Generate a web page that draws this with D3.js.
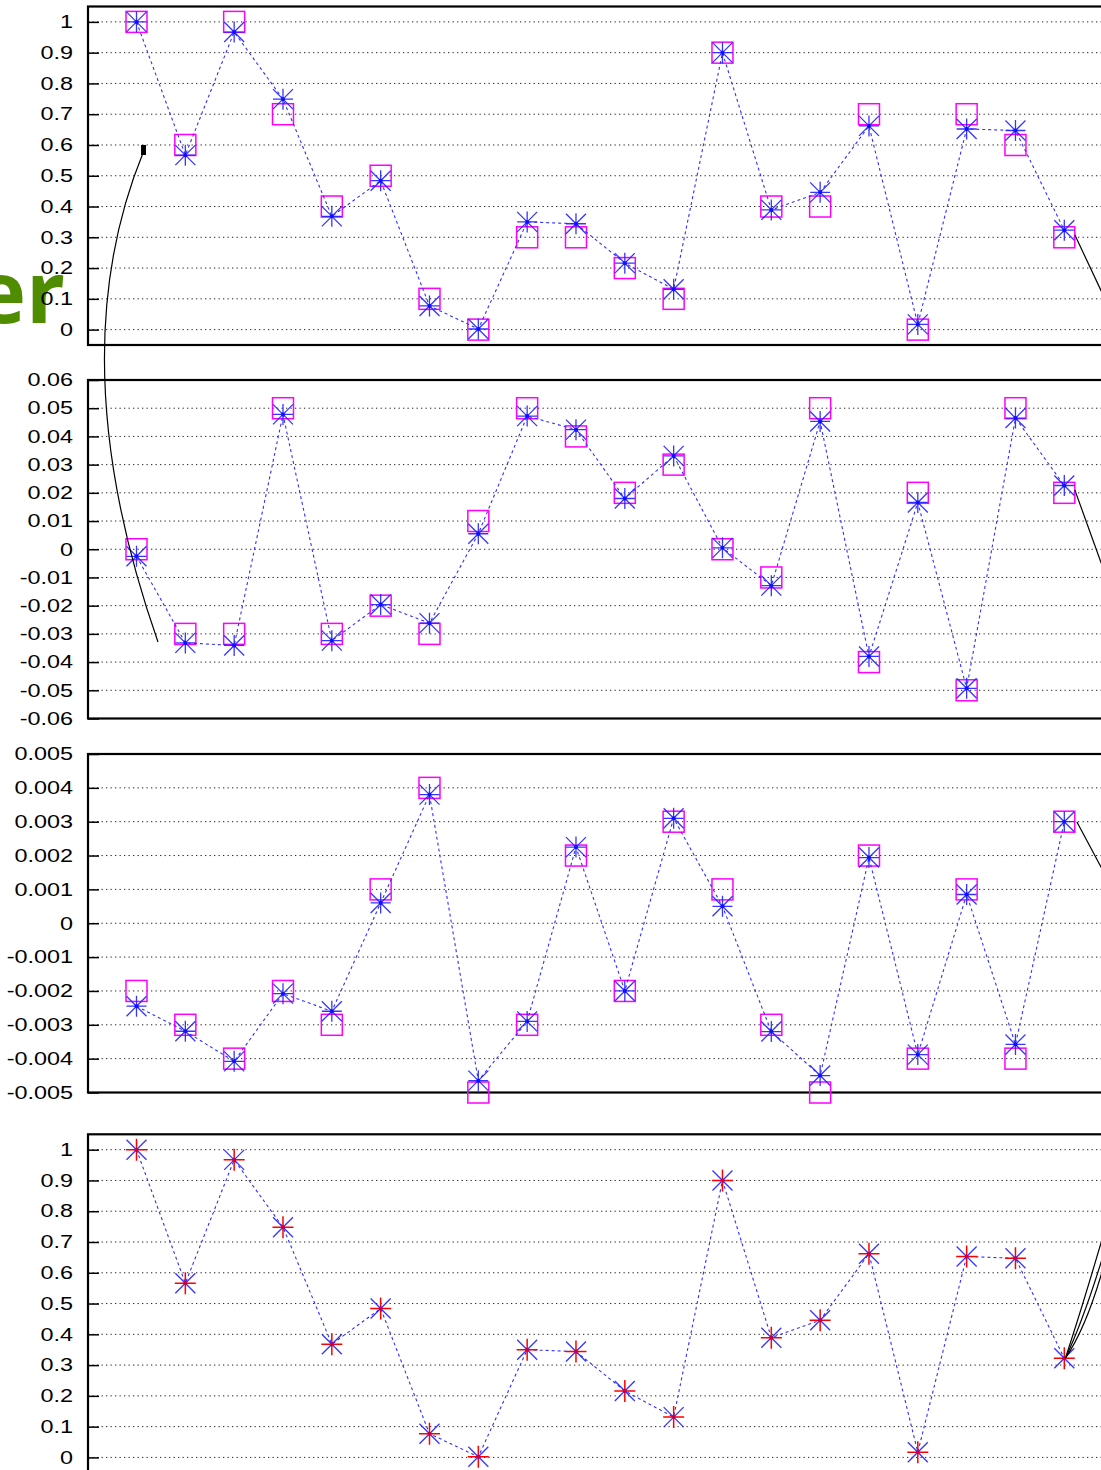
<!DOCTYPE html>
<html>
<head>
<meta charset="utf-8">
<script src="https://cdn.jsdelivr.net/npm/d3@7"></script>
<style>
  body { margin: 0; background: #fff; }
  svg { display: block; }
</style>
</head>
<body>
<svg id="chart"></svg>
<script>
// sample index along x
const samples = [1, 2, 3, 4, 5, 6, 7, 8, 9, 10, 11, 12, 13, 14, 15, 16, 17, 18, 19, 20];

// panel 1 : true values (squares) and estimates (stars)
const truth1 = [1, 0.6, 1, 0.7, 0.4, 0.5, 0.1, 0, 0.3, 0.3, 0.2, 0.1, 0.9, 0.4, 0.4, 0.7, 0, 0.7, 0.6, 0.3];
const est1   = [1.0, 0.567, 0.967, 0.749, 0.368, 0.484, 0.077, 0.002, 0.35, 0.344, 0.216, 0.131, 0.9, 0.389, 0.446, 0.662, 0.017, 0.652, 0.647, 0.323];

// panel 2
const truth2 = [0, -0.03, -0.03, 0.05, -0.03, -0.02, -0.03, 0.01, 0.05, 0.04, 0.02, 0.03, 0, -0.01, 0.05, -0.04, 0.02, -0.05, 0.05, 0.02];
const est2   = [-0.0025, -0.0332, -0.0341, 0.0478, -0.0324, -0.0196, -0.0262, 0.0055, 0.0472, 0.0424, 0.018, 0.0331, 0.0005, -0.0129, 0.0453, -0.038, 0.0166, -0.0493, 0.0465, 0.0226];

// panel 3
const truth3 = [-0.002, -0.003, -0.004, -0.002, -0.003, 0.001, 0.004, -0.005, -0.003, 0.002, -0.002, 0.003, 0.001, -0.003, -0.005, 0.002, -0.004, 0.001, -0.004, 0.003];
const est3   = [-0.00245, -0.00319, -0.00408, -0.00208, -0.0026, 0.0006, 0.0038, -0.00465, -0.0029, 0.00225, -0.002, 0.0031, 0.0005, -0.0032, -0.0045, 0.00194, -0.00388, 0.00085, -0.00358, 0.003];

// panel 4 : estimates only (blue star + red plus)
const est4   = [1.0, 0.566, 0.967, 0.748, 0.368, 0.484, 0.077, 0.002, 0.35, 0.344, 0.216, 0.131, 0.9, 0.389, 0.446, 0.662, 0.017, 0.653, 0.647, 0.322];

// tick values
const ticks1 = [0, 0.1, 0.2, 0.3, 0.4, 0.5, 0.6, 0.7, 0.8, 0.9, 1];
const ticks2 = [-0.06, -0.05, -0.04, -0.03, -0.02, -0.01, 0, 0.01, 0.02, 0.03, 0.04, 0.05, 0.06];
const ticks3 = [-0.005, -0.004, -0.003, -0.002, -0.001, 0, 0.001, 0.002, 0.003, 0.004, 0.005];
const ticks4 = [0, 0.1, 0.2, 0.3, 0.4, 0.5, 0.6, 0.7, 0.8, 0.9, 1];

const width = 1101;
const height = 1470;
const left = 88;
const frameRight = 1125;
const panelH = 338.5;

const panels = [
  { top: 6.5,    domain: [-0.05, 1.05],    ticks: ticks1, truth: truth1, est: est1 },
  { top: 380,    domain: [-0.06, 0.06],    ticks: ticks2, truth: truth2, est: est2 },
  { top: 754,    domain: [-0.005, 0.005],  ticks: ticks3, truth: truth3, est: est3 },
  { top: 1134.3, domain: [-0.05, 1.05],    ticks: ticks4, truth: null,   est: est4, plus: true }
];

const svg = d3.select("#chart")
  .attr("width", width)
  .attr("height", height)
  .attr("viewBox", `0 0 ${width} ${height}`);

const x = d3.scaleLinear().domain([1, 20]).range([136.5, 1064.3]);

const fmt = d => String(+d.toFixed(4));
const stretch = 1.3;

// big green word fragment behind the first panel's labels
svg.append("text")
  .attr("x", 65)
  .attr("y", 323)
  .attr("text-anchor", "end")
  .attr("font-family", "Open Sans, sans-serif")
  .attr("font-weight", 700)
  .attr("font-size", 86)
  .attr("fill", "#4f8c00")
  .text("er");

const starPath = "M0,-10.5V10.5M-10,0H10M-10,-10L10,10M-10,10L10,-10";
const xPath = "M-10,-10L10,10M-10,10L10,-10";
const plusPath = "M0,-11V11M-10.5,0H10.5";

const scales = [];

panels.forEach(p => {
  const y = d3.scaleLinear().domain(p.domain).range([p.top + panelH, p.top]);
  scales.push(y);
  const g = svg.append("g");

  // dotted grid
  g.selectAll(".grid")
    .data(p.ticks.filter(t => t > p.domain[0] && t < p.domain[1]))
    .join("line")
    .attr("class", "grid")
    .attr("x1", left)
    .attr("x2", frameRight)
    .attr("y1", d => y(d))
    .attr("y2", d => y(d))
    .attr("stroke", "#222")
    .attr("stroke-width", 1)
    .attr("stroke-dasharray", "1.3,3.2");

  const axis = g.append("g")
    .attr("transform", `translate(${left},0)`)
    .call(d3.axisLeft(y).tickValues(p.ticks).tickSize(-11).tickPadding(15).tickFormat(fmt));
  axis.select(".domain").remove();
  axis.selectAll(".tick line").attr("stroke", "#000").attr("stroke-width", 1.5);
  axis.attr("font-family", "Liberation Sans, Arial, sans-serif").attr("font-size", 18);
  axis.selectAll(".tick text")
    .attr("fill", "#000")
    .attr("x", -15 / stretch)
    .attr("transform", `scale(${stretch},1)`);

  // frame
  g.append("rect")
    .attr("x", left)
    .attr("y", p.top)
    .attr("width", frameRight - left)
    .attr("height", panelH)
    .attr("fill", "none")
    .attr("stroke", "#000")
    .attr("stroke-width", 2.2);

  // true values as squares
  if (p.truth) {
    g.selectAll(".sq")
      .data(p.truth)
      .join("rect")
      .attr("class", "sq")
      .attr("x", (d, i) => x(samples[i]) - 10.5)
      .attr("y", d => y(d) - 10.5)
      .attr("width", 21)
      .attr("height", 21)
      .attr("fill", "none")
      .attr("stroke", "#ff00ff")
      .attr("stroke-width", 1.5);
  }

  // dashed estimate line
  const line = d3.line().x((d, i) => x(samples[i])).y(d => y(d));
  g.append("path")
    .datum(p.est)
    .attr("d", line)
    .attr("fill", "none")
    .attr("stroke", "#3030ff")
    .attr("stroke-width", 1.1)
    .attr("stroke-dasharray", "3,3");

  // star markers
  const pts = g.selectAll(".pt")
    .data(p.est)
    .join("g")
    .attr("class", "pt")
    .attr("transform", (d, i) => `translate(${x(samples[i])},${y(d)})`);

  pts.append("path")
    .attr("d", p.plus ? xPath : starPath)
    .attr("stroke", "#2020ff")
    .attr("stroke-opacity", 0.9)
    .attr("stroke-width", 1.3)
    .attr("fill", "none");
  if (p.plus) {
    pts.append("path")
      .attr("d", plusPath)
      .attr("stroke", "#ff0000")
      .attr("stroke-width", 1.5)
      .attr("fill", "none");
  }
  pts.append("circle")
    .attr("r", 2)
    .attr("fill", p.plus ? "#c0004a" : "#1010ff");
});

// callout lines
const [y1, y2, y3, y4] = scales;
const callouts = svg.append("g").attr("fill", "none").attr("stroke", "#000").attr("stroke-width", 1.2);

// long arc on the left, from the first panel down into the second
callouts.append("path").attr("d", "M143,153 Q59,359 158,642");
svg.append("rect")
  .attr("x", x(1) + 4.5)
  .attr("y", y1(0.6))
  .attr("width", 5)
  .attr("height", 10)
  .attr("fill", "#000");

// connectors leaving on the right
const lx = x(20);
callouts.append("path").attr("d", `M${lx + 10.5},${y1(truth1[19]) - 2.5} l40,85`);
callouts.append("path").attr("d", `M${lx + 10.5},${y2(truth2[19]) - 3} l40,111`);
callouts.append("path").attr("d", `M${lx + 12.5},${y3(truth3[19])} l40,75`);
const ly = y4(est4[19]);
[[16, -48, 40, -130], [19, -40, 40, -110], [22, -32, 40, -98]].forEach(c => {
  callouts.append("path").attr("d", `M${lx + 1},${ly} q${c[0]},${c[1]} ${c[2]},${c[3]}`);
});
</script>
</body>
</html>
